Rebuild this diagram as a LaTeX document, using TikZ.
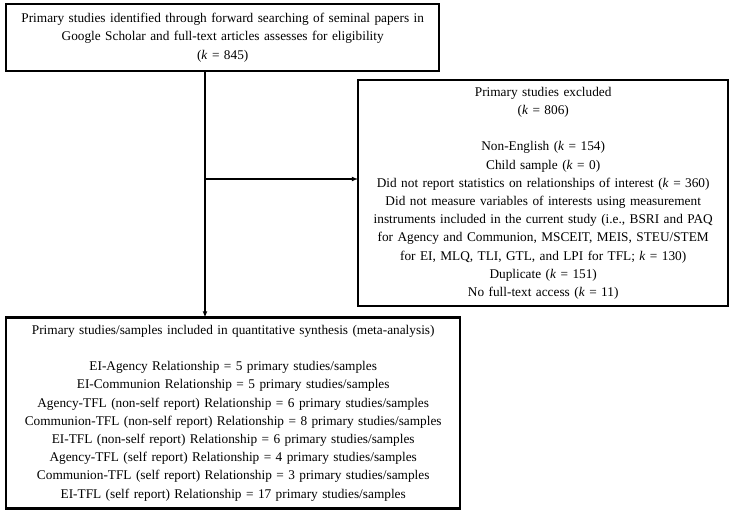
\documentclass[tikz,border=0pt]{standalone}
\usepackage{fontspec}
\setmainfont{Liberation Serif}
\usepackage{tikz}
\usetikzlibrary{positioning, arrows}

\begin{document}
\begin{tikzpicture}
	[x=1pt, y=-1pt, >=latex,
	 box/.style={draw, line width=2.4pt, align=center, inner sep=0pt,
	   font=\fontsize{13.3}{18.2}\selectfont},
	 link/.style={->, line width=1.1pt, shorten >=-1pt}]
   \useasboundingbox (0,0) rectangle (735,511);
   \node[box, anchor=north west, text width=433pt, minimum height=67pt] (found) at (5,3)
     {Primary studies identified through forward searching of seminal papers in\\
      Google Scholar and full-text articles assesses for eligibility\\
      (\textit{k} = 845)};
   \node[box, anchor=north west, text width=370pt, minimum height=226pt] (excl) at (357,79)
     {Primary studies excluded\\
      (\textit{k} = 806)\\[18.2pt]
      Non-English (\textit{k} = 154)\\
      Child sample (\textit{k} = 0)\\
      Did not report statistics on relationships of interest (\textit{k} = 360)\\
      Did not measure variables of interests using measurement\\
      instruments included in the current study (i.e., BSRI and PAQ\\
      for Agency and Communion, MSCEIT, MEIS, STEU/STEM\\
      for EI, MLQ, TLI, GTL, and LPI for TFL; \textit{k} = 130)\\
      Duplicate (\textit{k} = 151)\\
      No full-text access (\textit{k} = 11)};
   \node[box, text width=454pt, minimum height=191pt] (incl) [below=244pt of found.south west, anchor=north west]
     {Primary studies/samples included in quantitative synthesis (meta-analysis)\\[18.2pt]
      EI-Agency Relationship = 5 primary studies/samples\\
      EI-Communion Relationship = 5 primary studies/samples\\
      Agency-TFL (non-self report) Relationship = 6 primary studies/samples\\
      Communion-TFL (non-self report) Relationship = 8 primary studies/samples\\
      EI-TFL (non-self report) Relationship = 6 primary studies/samples\\
      Agency-TFL (self report) Relationship = 4 primary studies/samples\\
      Communion-TFL (self report) Relationship = 3 primary studies/samples\\
      EI-TFL (self report) Relationship = 17 primary studies/samples};
   \coordinate (split) at (205,179);
    \draw[link] (found.south -| split) -- (incl.north -| split);
    \draw[link] (split) -- (excl.west |- split);
\end{tikzpicture}
\end{document}
